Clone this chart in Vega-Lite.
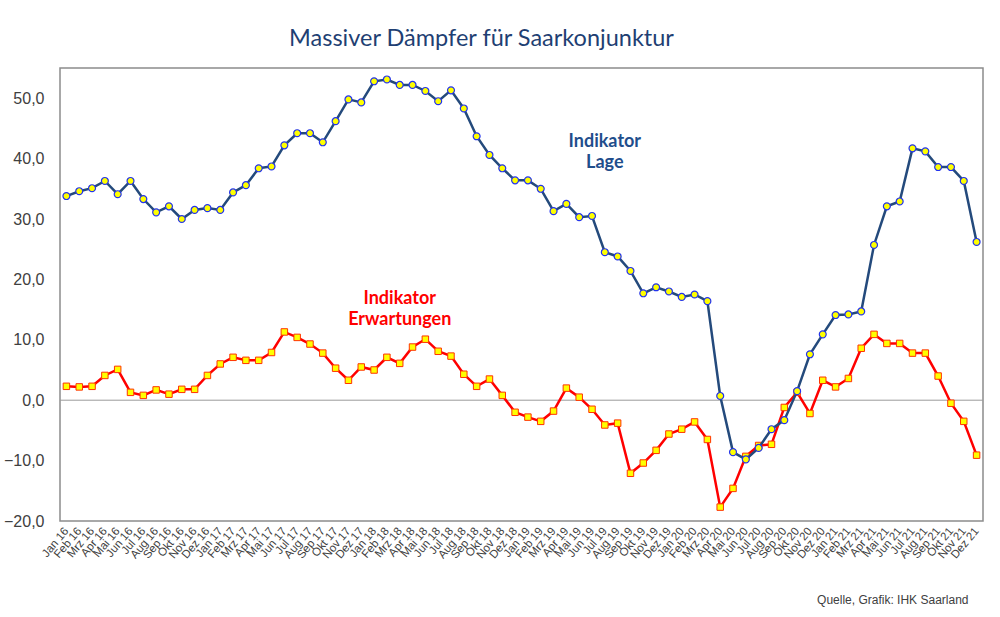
{
  "$schema": "https://vega.github.io/schema/vega-lite/v6.json",
  "width": 923,
  "height": 453,
  "autosize": {"type": "none"},
  "padding": {"left": 60, "top": 68, "right": 17, "bottom": 96},
  "background": "white",
  "title": {
    "text": "Massiver Dämpfer für Saarkonjunktur",
    "font": "Lato",
    "fontSize": 23.5,
    "fontWeight": "normal",
    "color": "#1f3f73",
    "anchor": "middle",
    "dx": -40,
    "offset": 18
  },
  "data": {
    "values": [
      {"monat": "Jan 16", "lage": 33.8, "erw": 2.3},
      {"monat": "Feb 16", "lage": 34.6, "erw": 2.2},
      {"monat": "Mrz 16", "lage": 35.1, "erw": 2.3},
      {"monat": "Apr 16", "lage": 36.3, "erw": 4.1},
      {"monat": "Mai 16", "lage": 34.1, "erw": 5.1},
      {"monat": "Jun 16", "lage": 36.3, "erw": 1.3},
      {"monat": "Jul 16", "lage": 33.3, "erw": 0.8},
      {"monat": "Aug 16", "lage": 31.1, "erw": 1.7},
      {"monat": "Sep 16", "lage": 32.1, "erw": 1.0},
      {"monat": "Okt 16", "lage": 30.0, "erw": 1.8},
      {"monat": "Nov 16", "lage": 31.5, "erw": 1.8},
      {"monat": "Dez 16", "lage": 31.8, "erw": 4.1},
      {"monat": "Jan 17", "lage": 31.5, "erw": 6.0},
      {"monat": "Feb 17", "lage": 34.4, "erw": 7.1},
      {"monat": "Mrz 17", "lage": 35.6, "erw": 6.6},
      {"monat": "Apr 17", "lage": 38.4, "erw": 6.6},
      {"monat": "Mai 17", "lage": 38.7, "erw": 7.9},
      {"monat": "Jun 17", "lage": 42.2, "erw": 11.3},
      {"monat": "Jul 17", "lage": 44.2, "erw": 10.4},
      {"monat": "Aug 17", "lage": 44.2, "erw": 9.3},
      {"monat": "Sep 17", "lage": 42.7, "erw": 7.8},
      {"monat": "Okt 17", "lage": 46.2, "erw": 5.3},
      {"monat": "Nov 17", "lage": 49.8, "erw": 3.3},
      {"monat": "Dez 17", "lage": 49.3, "erw": 5.5},
      {"monat": "Jan 18", "lage": 52.8, "erw": 5.0},
      {"monat": "Feb 18", "lage": 53.1, "erw": 7.1},
      {"monat": "Mrz 18", "lage": 52.2, "erw": 6.1},
      {"monat": "Apr 18", "lage": 52.2, "erw": 8.8},
      {"monat": "Mai 18", "lage": 51.2, "erw": 10.1},
      {"monat": "Jun 18", "lage": 49.5, "erw": 8.1},
      {"monat": "Jul 18", "lage": 51.3, "erw": 7.3},
      {"monat": "Aug 18", "lage": 48.3, "erw": 4.3},
      {"monat": "Sep 18", "lage": 43.7, "erw": 2.3},
      {"monat": "Okt 18", "lage": 40.6, "erw": 3.5},
      {"monat": "Nov 18", "lage": 38.4, "erw": 0.8},
      {"monat": "Dez 18", "lage": 36.4, "erw": -2.0},
      {"monat": "Jan 19", "lage": 36.4, "erw": -2.8},
      {"monat": "Feb 19", "lage": 35.0, "erw": -3.5},
      {"monat": "Mrz 19", "lage": 31.3, "erw": -1.8},
      {"monat": "Apr 19", "lage": 32.5, "erw": 2.0},
      {"monat": "Mai 19", "lage": 30.3, "erw": 0.5},
      {"monat": "Jun 19", "lage": 30.5, "erw": -1.5},
      {"monat": "Jul 19", "lage": 24.5, "erw": -4.1},
      {"monat": "Aug 19", "lage": 23.8, "erw": -3.8},
      {"monat": "Sep 19", "lage": 21.4, "erw": -12.1},
      {"monat": "Okt 19", "lage": 17.7, "erw": -10.4},
      {"monat": "Nov 19", "lage": 18.7, "erw": -8.3},
      {"monat": "Dez 19", "lage": 18.0, "erw": -5.6},
      {"monat": "Jan 20", "lage": 17.1, "erw": -4.8},
      {"monat": "Feb 20", "lage": 17.5, "erw": -3.6},
      {"monat": "Mrz 20", "lage": 16.4, "erw": -6.5},
      {"monat": "Apr 20", "lage": 0.7, "erw": -17.7},
      {"monat": "Mai 20", "lage": -8.6, "erw": -14.6},
      {"monat": "Jun 20", "lage": -9.8, "erw": -9.3},
      {"monat": "Jul 20", "lage": -7.9, "erw": -7.5},
      {"monat": "Aug 20", "lage": -4.8, "erw": -7.3},
      {"monat": "Sep 20", "lage": -3.3, "erw": -1.2},
      {"monat": "Okt 20", "lage": 1.5, "erw": 1.3},
      {"monat": "Nov 20", "lage": 7.6, "erw": -2.2},
      {"monat": "Dez 20", "lage": 10.9, "erw": 3.3},
      {"monat": "Jan 21", "lage": 14.1, "erw": 2.2},
      {"monat": "Feb 21", "lage": 14.2, "erw": 3.6},
      {"monat": "Mrz 21", "lage": 14.7, "erw": 8.6},
      {"monat": "Apr 21", "lage": 25.7, "erw": 10.9},
      {"monat": "Mai 21", "lage": 32.1, "erw": 9.4},
      {"monat": "Jun 21", "lage": 32.9, "erw": 9.4},
      {"monat": "Jul 21", "lage": 41.7, "erw": 7.8},
      {"monat": "Aug 21", "lage": 41.2, "erw": 7.8},
      {"monat": "Sep 21", "lage": 38.6, "erw": 4.0},
      {"monat": "Okt 21", "lage": 38.6, "erw": -0.5},
      {"monat": "Nov 21", "lage": 36.3, "erw": -3.5},
      {"monat": "Dez 21", "lage": 26.2, "erw": -9.1}
    ]
  },
  "encoding": {
    "x": {
      "field": "monat",
      "type": "ordinal",
      "sort": null,
      "scale": {"type": "point", "padding": 0.5},
      "axis": {
        "title": "Quelle, Grafik: IHK Saarland",
        "titleFont": "Liberation Sans",
        "titleFontSize": 12,
        "titleFontWeight": "normal",
        "titleColor": "#404040",
        "titleAlign": "right",
        "titleAnchor": "end",
        "titleBaseline": "alphabetic",
        "titleX": 908,
        "titleY": 82,
        "labelAngle": -50,
        "labelFont": "Liberation Sans",
        "labelFontSize": 11.5,
        "labelColor": "#404040",
        "labelPadding": 8,
        "ticks": false,
        "domain": false,
        "labelOverlap": false
      }
    },
    "y": {
      "type": "quantitative",
      "scale": {"domain": [-20, 55], "nice": false},
      "axis": {
        "title": null,
        "values": [-20, -10, 0, 10, 20, 30, 40, 50],
        "labelExpr": "replace(format(datum.value, '.1f'), '.', ',')",
        "labelFont": "Liberation Sans",
        "labelFontSize": 16,
        "labelColor": "#404040",
        "labelPadding": 16,
        "ticks": false,
        "domain": false,
        "grid": false
      }
    }
  },
  "layer": [
    {
      "data": {"values": [{"null": 0}]},
      "mark": {"type": "rule", "color": "#9a9a9a", "strokeWidth": 1},
      "encoding": {"y": {"datum": 0}, "x": null}
    },
    {
      "mark": {"type": "line", "color": "#ff0000", "strokeWidth": 2.5},
      "encoding": {"y": {"field": "erw"}}
    },
    {
      "mark": {"type": "square", "filled": true, "fill": "#ffff00", "stroke": "#ff3300", "strokeWidth": 1, "size": 42, "opacity": 1},
      "encoding": {"y": {"field": "erw"}}
    },
    {
      "mark": {"type": "line", "color": "#244a7c", "strokeWidth": 2.5},
      "encoding": {"y": {"field": "lage"}}
    },
    {
      "mark": {"type": "circle", "fill": "#ffff00", "stroke": "#2233ee", "strokeWidth": 1.2, "size": 48, "opacity": 1},
      "encoding": {"y": {"field": "lage"}}
    },
    {
      "data": {"values": [{"label": "Lage"}]},
      "mark": {"type": "text", "text": ["Indikator", "Lage"], "font": "Lato", "fontSize": 18, "fontWeight": "bold", "color": "#1f4e8c", "lineHeight": 21, "align": "center", "baseline": "middle"},
      "encoding": {"x": {"datum": "Jul 19"}, "y": {"datum": 42.7}}
    },
    {
      "data": {"values": [{"label": "Erwartungen"}]},
      "mark": {"type": "text", "text": ["Indikator", "Erwartungen"], "font": "Lato", "fontSize": 18, "fontWeight": "bold", "color": "#ff0000", "lineHeight": 21, "align": "center", "baseline": "middle"},
      "encoding": {"x": {"datum": "Mrz 18"}, "y": {"datum": 16.8}}
    }
  ],
  "config": {
    "view": {"stroke": "#8c8c8c", "strokeWidth": 1.5}
  }
}
